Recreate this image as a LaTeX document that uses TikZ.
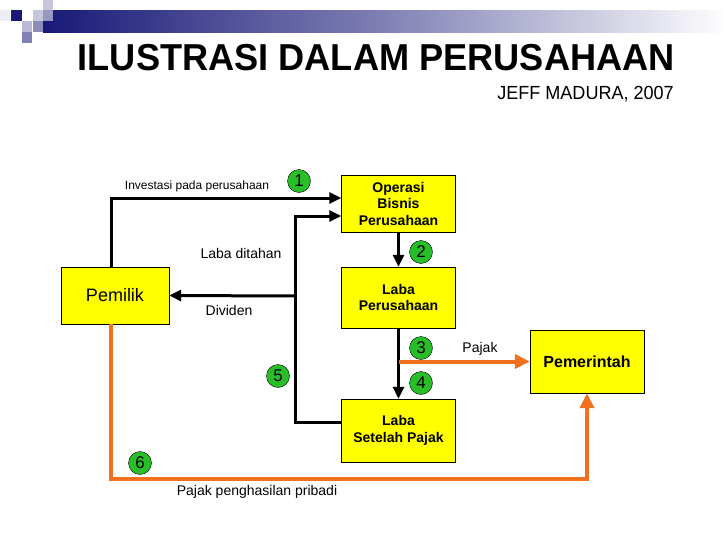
\documentclass[tikz,border=0pt]{standalone}
\usepackage{fontspec}
\setmainfont{Liberation Sans}
\usetikzlibrary{positioning,arrows.meta}
\definecolor{navy}{RGB}{25,25,120}
\definecolor{kng}{RGB}{255,255,0}
\definecolor{ijo}{RGB}{40,190,40}
\definecolor{org}{RGB}{240,112,30}

\begin{document}
\begin{tikzpicture}[x=1pt,y=-1pt,font=\fontsize{14}{16.5}\selectfont,
  box/.style={draw,fill=kng,inner sep=0pt,align=center,font=\fontsize{14}{16.5}\selectfont\bfseries},
  num/.style={draw,circle,fill=ijo,minimum size=23pt,inner sep=0pt,font=\fontsize{17}{17}\selectfont},
  lbl/.style={inner sep=0pt},
  hit/.style={line width=3pt,-{Triangle[length=12pt,width=11pt]}},
  pjk/.style={line width=4pt,draw=org,-{Triangle[length=15pt,width=14pt]}}]
  \useasboundingbox (0,0) rectangle (728,546);
  % header
  \shade[left color=navy,right color=white,middle color=navy!55!white] (43,10) rectangle (728,32);
  \fill[navy!8] (0,10) rectangle (10,21);
  \fill[navy] (11,10) rectangle (22,21);
  \fill[navy!25] (33,10) rectangle (43,21);
  \fill[navy!25] (43,0) rectangle (53,10);
  \fill[navy!45] (43,10) rectangle (53,21);
  \fill[navy!30] (22,21) rectangle (32,32);
  \fill[navy!50] (33,21) rectangle (43,32);
  \fill[navy!55] (22,32) rectangle (32,43);
  \node[anchor=base east,inner sep=0pt,font=\fontsize{37.5}{37.5}\selectfont\bfseries] (judul) at (675,70) {\scalebox{0.965}[1]{ILUSTRASI DALAM PERUSAHAAN}};
  \node[anchor=base east,inner sep=0pt,font=\fontsize{19}{19}\selectfont] (sumber) at (674,99) {\scalebox{0.95}[1]{JEFF MADURA, 2007}};
  % kotak
  \node[box,minimum width=114pt,minimum height=57pt] (ops) at (398.5,203.5) {Operasi\\Bisnis\\Perusahaan};
  \node[box,minimum width=114pt,minimum height=61pt] (lp) at (398.5,297.5) {Laba\\Perusahaan};
  \node[box,minimum width=114pt,minimum height=63pt] (lsp) at (398.5,430.5) {Laba\\Setelah Pajak};
  \node[box,minimum width=108pt,minimum height=57pt,font=\fontsize{18}{18}\selectfont] (pml) at (115,295.5) {Pemilik};
  \node[box,minimum width=114pt,minimum height=63pt,font=\fontsize{16}{16}\selectfont\bfseries] (pem) at (587,361.5) {Pemerintah};
  % garis
  \coordinate (jn) at (295,296);
  \draw[hit] ([xshift=-4pt]pml.north) |- ([yshift=5.5pt]ops.west);
  \draw[hit] ([yshift=8.5pt]lsp.west) -| (jn) |- ([yshift=-12.5pt]ops.west);
  \draw[hit] (jn) -- (pml.east);
  \draw[hit] (ops.south) -- (lp.north);
  \draw[hit] (lp.south) -- (lsp.north);
  \coordinate (cab) at (lp.south |- pem.west);
  \draw[pjk] (cab) -- (pem.west);
  \draw[pjk] ([xshift=-4pt]pml.south) |- (300,479) -| (pem.south);
  % label
  \node[lbl,font=\fontsize{12}{12}\selectfont] (inv) at (197,186) {Investasi pada perusahaan};
  \node[lbl] (ldt) at (241,253) {Laba ditahan};
  \node[lbl] (dvd) at (229,310) {Dividen};
  \node[lbl] (pj) at (480,349) {Pajak};
  \node[lbl] (pjp) at (257,492) {Pajak penghasilan pribadi};
  % nomor
  \node[num] (n1) at (299,181) {1};
  \node[num] (n2) at (421,252) {2};
  \node[num] (n3) at (421,348) {3};
  \node[num] (n4) at (421,383) {4};
  \node[num] (n5) at (278,376) {5};
  \node[num] (n6) at (140,463) {6};
\end{tikzpicture}
\end{document}
